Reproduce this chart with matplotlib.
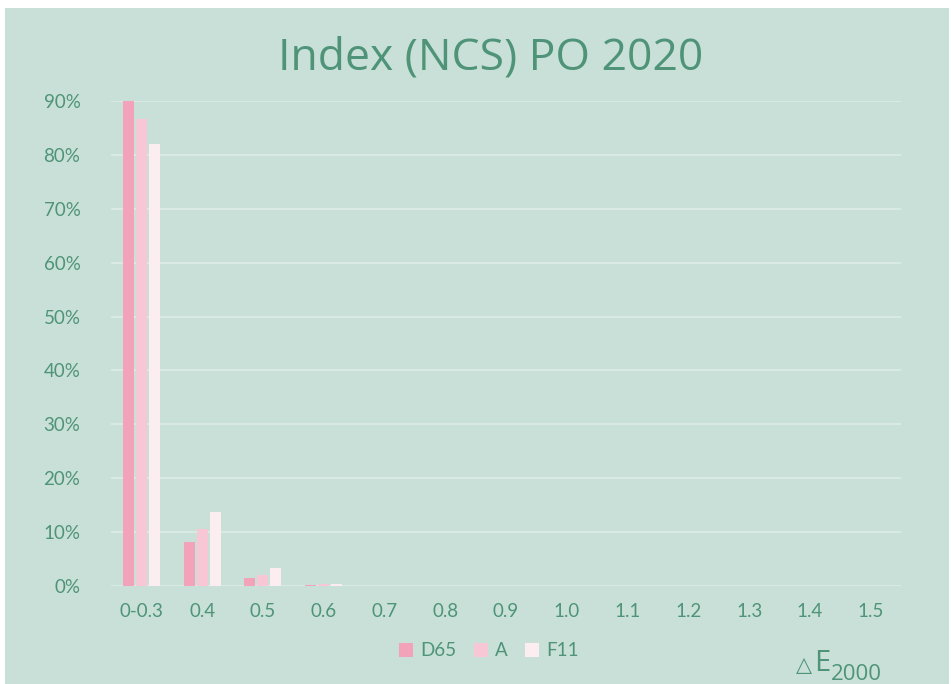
import matplotlib.pyplot as plt
import numpy as np

categories = ['0-0.3', '0.4', '0.5', '0.6', '0.7', '0.8', '0.9', '1.0',
              '1.1', '1.2', '1.3', '1.4', '1.5']
d65 = [90.0, 8.2, 1.5, 0.1, 0, 0, 0, 0, 0, 0, 0, 0, 0]
a = [86.6, 10.6, 2.1, 0.3, 0, 0, 0, 0, 0, 0, 0, 0, 0]
f11 = [82.0, 13.7, 3.3, 0.45, 0.05, 0, 0, 0, 0, 0, 0, 0, 0]
series = [('D65', d65, '#F2A3B9'), ('A', a, '#F8C7D5'), ('F11', f11, '#FCEDF0')]

bg = '#C8E0D8'
txt = '#4F9478'
grid = '#D9EAE4'

plt.rcParams['font.family'] = ['Lato', 'DejaVu Sans']

fig = plt.figure(figsize=(9.51, 6.84), dpi=100)
fig.patch.set_facecolor('white')
# panel (white strip along top and left edge like the source)
fig.patches.append(plt.Rectangle((5 / 951, 0), 944 / 951, 676 / 684,
                                 transform=fig.transFigure, facecolor=bg,
                                 edgecolor='none', zorder=-10))

ax = fig.add_axes([111 / 951, 98 / 684, 790 / 951, 485 / 684])
ax.set_facecolor('none')

x = np.arange(len(categories))
w = 0.18
step = 0.214
for i, (name, vals, col) in enumerate(series):
    ax.bar(x + (i - 1) * step, vals, width=w, color=col, label=name, zorder=3)

ax.set_xlim(-0.5, len(categories) - 0.5)
ax.set_ylim(0, 90)
ax.set_yticks(np.arange(0, 91, 10))
ax.set_yticklabels(['{}%'.format(v) for v in range(0, 91, 10)])
ax.set_xticks(x)
ax.set_xticklabels(categories)
ax.tick_params(length=0, colors=txt, labelsize=13.5, pad=12)
ax.tick_params(axis='y', pad=22)
ax.grid(axis='y', color=grid, linewidth=1.5, zorder=0)
ax.set_axisbelow(True)
for s in ax.spines.values():
    s.set_visible(False)

fig.text(491 / 951, 1 - 58 / 684, 'Index (NCS) PO 2020', ha='center', va='center',
         fontsize=32, color=txt, family='Open Sans')

leg = fig.legend(loc='center', bbox_to_anchor=(489 / 951, 1 - 651 / 684), ncol=3,
                 frameon=False, fontsize=13.5, handlelength=0.75, handleheight=0.75,
                 handletextpad=0.4, columnspacing=0.9)
for t in leg.get_texts():
    t.set_color(txt)

# delta E 2000 label, bottom right (partly cut off at the bottom, as in the source)
fig.text(796 / 951, 1 - 671 / 684, '\u25b3', ha='left', va='baseline',
         fontsize=15, color=txt, family=['DejaVu Sans'])
fig.text(814 / 951, 1 - 671 / 684, 'E', ha='left', va='baseline',
         fontsize=21, color=txt, family='Open Sans')
fig.text(831 / 951, 1 - 680 / 684, '2000', ha='left', va='baseline',
         fontsize=16, color=txt, family='Open Sans')

plt.savefig('out.png', dpi=100)
